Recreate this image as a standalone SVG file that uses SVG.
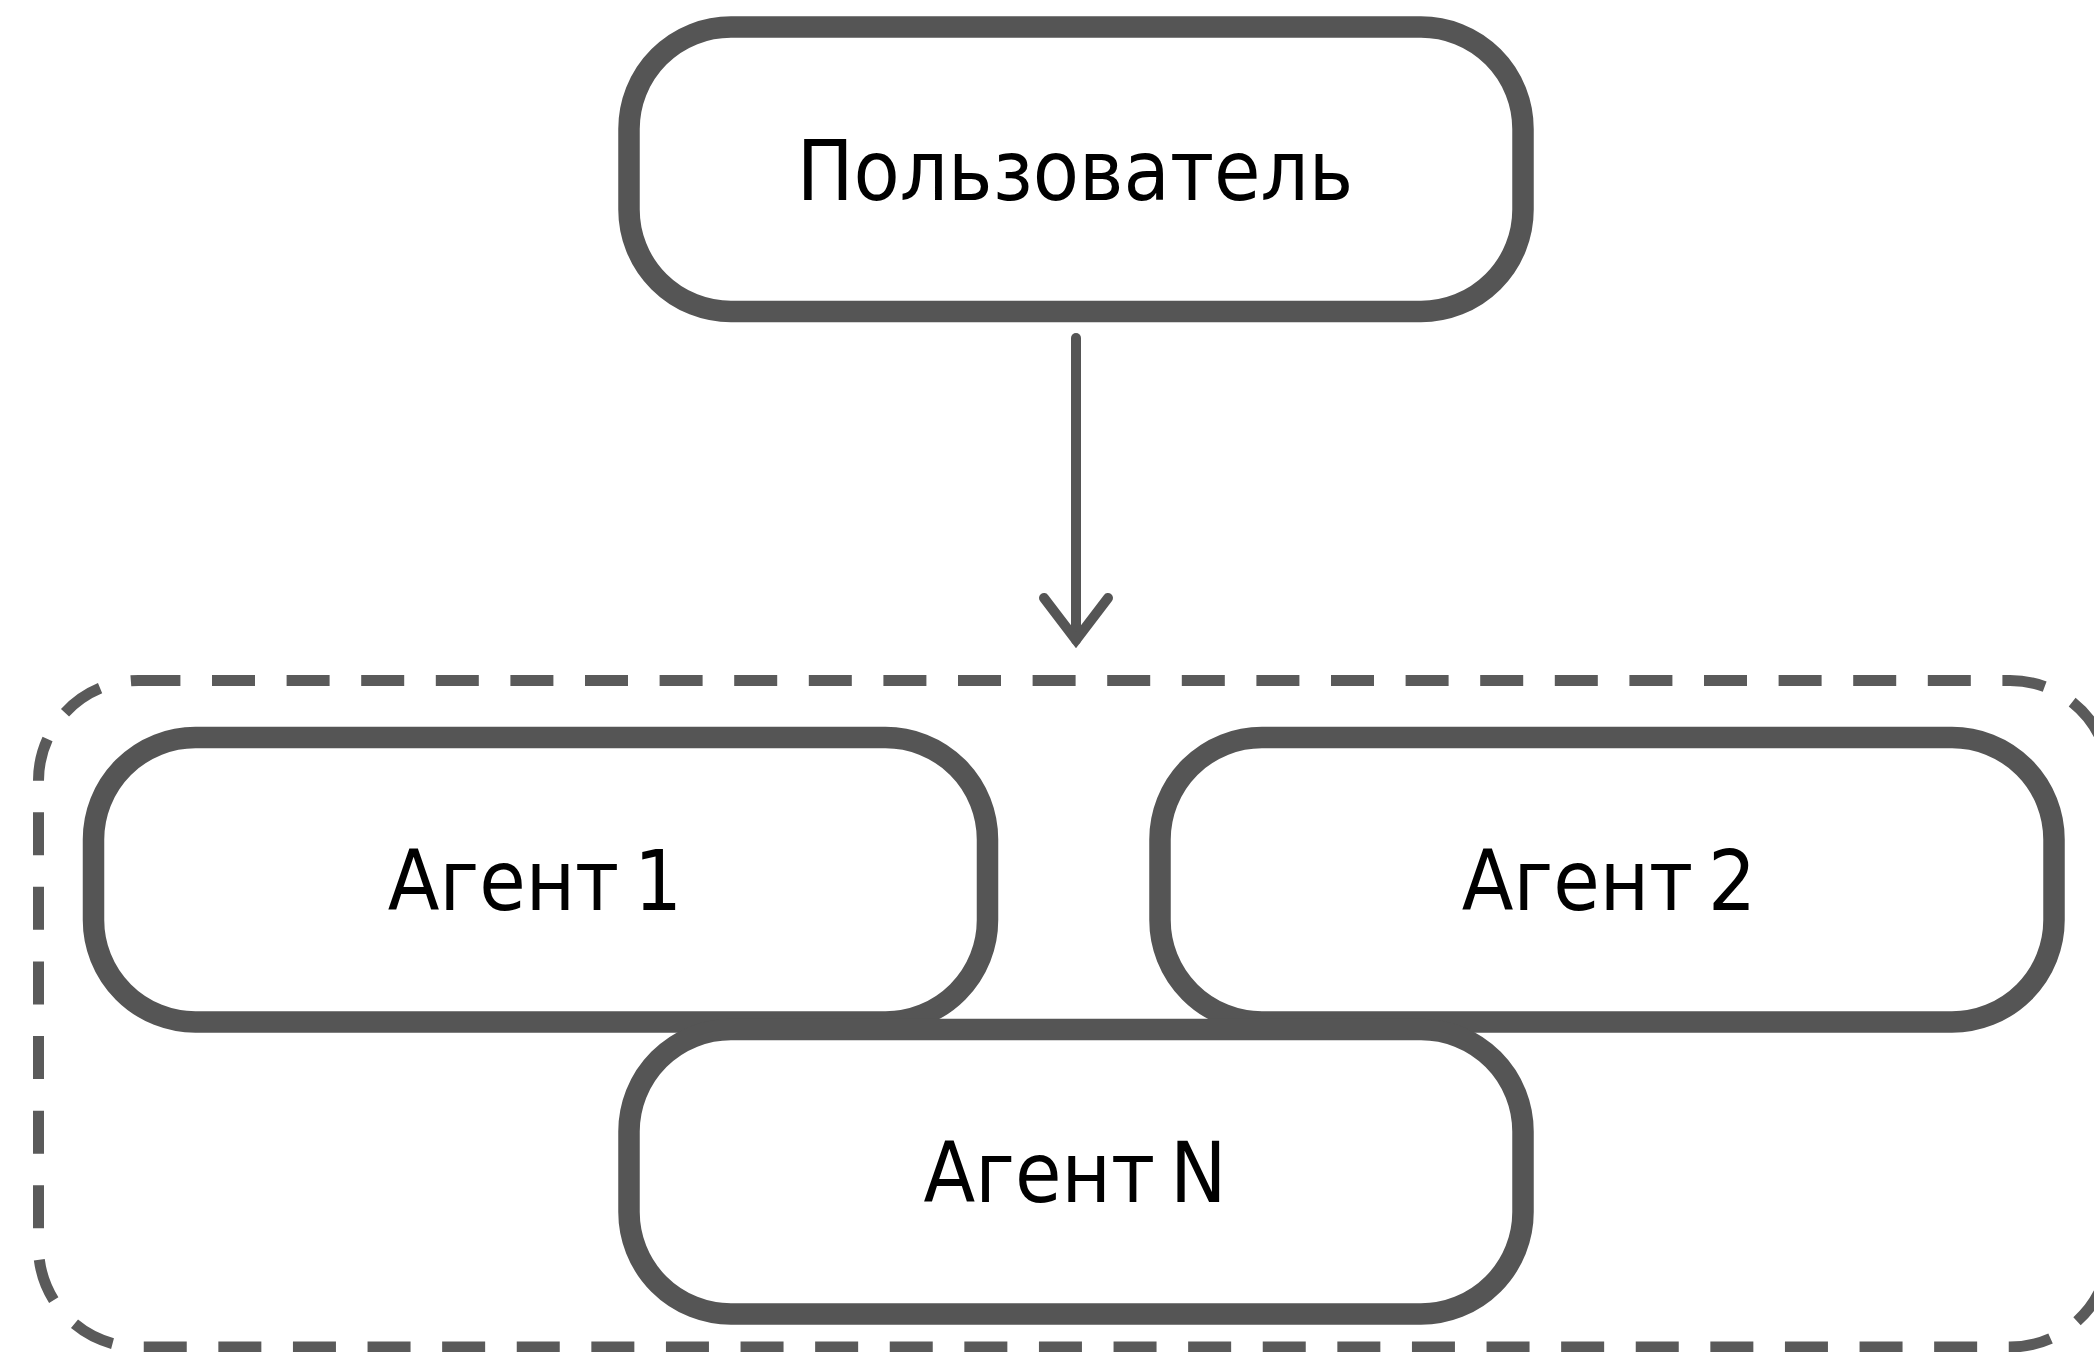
<svg xmlns="http://www.w3.org/2000/svg" width="2094" height="1352" viewBox="0 0 2094 1352">
<style>
.node rect { fill:#ffffff; stroke:#555555; stroke-width:21.5; }
.node text { font-family:"DejaVu Sans Condensed","DejaVu Sans",sans-serif; font-stretch:condensed; font-size:84px; fill:#000000; text-anchor:middle; word-spacing:-9px; }
.frame { fill:none; stroke:#5a5a5a; stroke-width:11; stroke-dasharray:43 31.6; stroke-dashoffset:35.2; }
.edge { fill:none; stroke:#555555; stroke-width:10; stroke-linecap:round; }
</style>
<defs>
<marker id="arrow" markerUnits="userSpaceOnUse" orient="auto" overflow="visible" markerWidth="1" markerHeight="1" refX="0" refY="0">
<path d="M -42 -32 L 0 0 L -42 32" fill="none" stroke="#555555" stroke-width="10" stroke-linecap="round" stroke-linejoin="miter"/>
</marker>
</defs>
<g id="agents-group">
<path class="frame" d="M 138.5 680.5 A 100 100 0 0 0 38.5 780.5 L 38.5 1247 A 100 100 0 0 0 138.5 1347 L 2010 1347 A 100 100 0 0 0 2110 1247 L 2110 780.5 A 100 100 0 0 0 2010 680.5 Z"/>
</g>
<g id="connectors">
<line class="edge" x1="1076" y1="338" x2="1076" y2="640" marker-end="url(#arrow)"/>
</g>
<g id="user" class="node">
<rect x="629" y="27" width="894" height="284.5" rx="102" ry="102"/>
<text x="1075" y="200">Пользователь</text>
</g>
<g id="agent1" class="node">
<rect x="93.5" y="737.5" width="894" height="284.5" rx="102" ry="102"/>
<text x="535" y="910">Агент 1</text>
</g>
<g id="agent2" class="node">
<rect x="1160" y="737.5" width="894" height="284.5" rx="102" ry="102"/>
<text x="1609" y="910">Агент 2</text>
</g>
<g id="agentN" class="node">
<rect x="629" y="1029.5" width="894" height="284.5" rx="102" ry="102"/>
<text x="1075" y="1202">Агент N</text>
</g>
</svg>
